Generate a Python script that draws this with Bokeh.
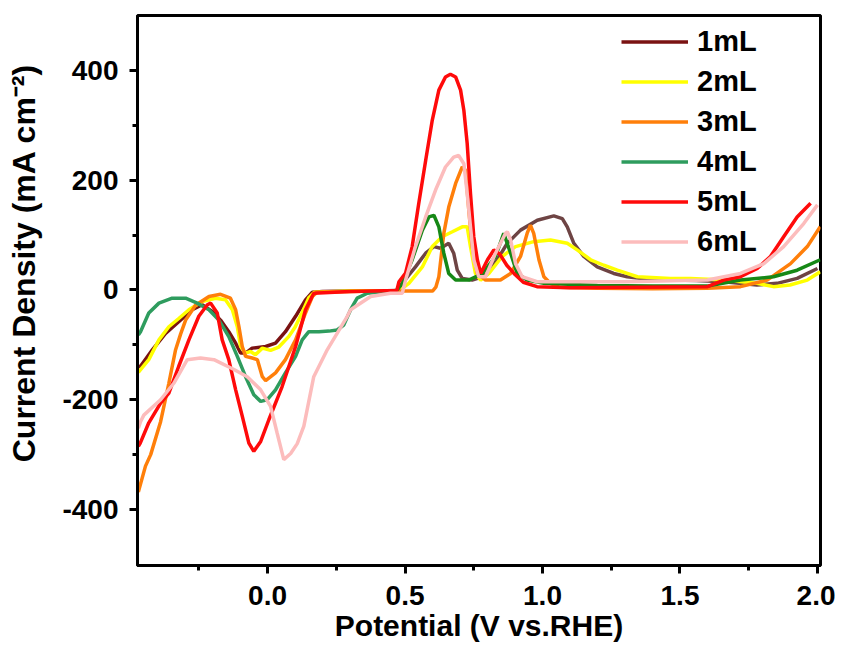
import math
from bokeh.plotting import figure
from bokeh.models import Range1d, FixedTicker, Legend, LegendItem, Label
from bokeh.embed import file_html
from bokeh.resources import INLINE

# ---------------- data ----------------
x_1ml = [-0.47, -0.462, -0.419, -0.371, -0.323, -0.274, -0.238, -0.201, -0.171, -0.141,
         -0.116, -0.098, -0.08, -0.056, -0.007, 0.029, 0.065, 0.102, 0.138, 0.163,
         0.2, 0.3, 0.4, 0.47, 0.49, 0.515, 0.538, 0.575, 0.605, 0.629,
         0.659, 0.677, 0.69, 0.708, 0.744, 0.77, 0.799, 0.835, 0.872, 0.92,
         0.981, 1.041, 1.072, 1.09, 1.114, 1.15, 1.199, 1.259, 1.308, 1.405,
         1.478, 1.56, 1.66, 1.78, 1.853, 1.926, 2.0]
y_1ml = [-140, -139, -109, -79, -58, -36, -27, -39, -55, -76,
         -97, -115, -115, -106, -103, -97, -76, -48, -18, -4,
         -3, -2, -2, -1, 12, 28, 42, 67, 79, 76,
         85, 67, 36, 21, 18, 22, 30, 55, 85, 109,
         127, 135, 130, 115, 85, 61, 42, 30, 24, 18,
         18, 17, 15, 9, 12, 21, 39]

x_2ml = [-0.47, -0.432, -0.395, -0.359, -0.323, -0.286, -0.238, -0.189, -0.153, -0.128,
         -0.11, -0.098, -0.08, -0.062, -0.044, -0.019, 0.011, 0.041, 0.077, 0.10,
         0.125, 0.15, 0.17, 0.3, 0.47, 0.49, 0.514, 0.563, 0.599, 0.635,
         0.672, 0.708, 0.726, 0.738, 0.756, 0.775, 0.805, 0.853, 0.902, 0.968,
         1.029, 1.09, 1.126, 1.175, 1.223, 1.272, 1.345, 1.465, 1.538, 1.66,
         1.78, 1.84, 1.9, 1.963, 2.01]
y_2ml = [-150, -127, -91, -67, -52, -36, -21, -15, -18, -36,
         -67, -103, -115, -112, -118, -106, -110, -104, -85, -68,
         -42, -14, -4, -2, -1, 3, 12, 42, 79, 97,
         106, 115, 115, 79, 30, 18, 30, 61, 79, 88,
         91, 85, 73, 55, 45, 36, 24, 21, 21, 18,
         12, 6, 9, 18, 33]

x_3ml = [-0.47, -0.444, -0.425, -0.389, -0.359, -0.335, -0.316, -0.298, -0.262, -0.213,
         -0.171, -0.135, -0.116, -0.104, -0.092, -0.08, -0.056, -0.037, -0.019, -0.007,
         0.029, 0.065, 0.102, 0.138, 0.163, 0.18, 0.4, 0.6, 0.612, 0.623,
         0.641, 0.659, 0.684, 0.708, 0.72, 0.732, 0.744, 0.763, 0.793, 0.847,
         0.884, 0.92, 0.944, 0.956, 0.968, 0.987, 1.005, 1.029, 1.06, 1.2,
         1.4, 1.6, 1.72, 1.817, 1.902, 1.963, 2.01]
y_3ml = [-368, -321, -300, -240, -170, -110, -80, -55, -28, -12,
         -8, -15, -36, -67, -103, -121, -124, -127, -158, -165,
         -151, -127, -91, -42, -12, -4, -2, -2, 5, 24,
         103, 151, 194, 224, 218, 145, 79, 30, 18, 18,
         30, 61, 103, 118, 103, 55, 24, 12, 5, 3,
         2, 3, 6, 18, 48, 79, 115]

x_4ml = [-0.47, -0.462, -0.432, -0.395, -0.347, -0.298, -0.256, -0.213, -0.177, -0.141,
         -0.11, -0.08, -0.05, -0.025, -0.001, 0.029, 0.065, 0.102, 0.126, 0.15,
         0.187, 0.223, 0.253, 0.277, 0.302, 0.326, 0.363, 0.423, 0.47, 0.49,
         0.526, 0.563, 0.587, 0.605, 0.623, 0.641, 0.659, 0.684, 0.732, 0.781,
         0.829, 0.859, 0.884, 0.908, 0.944, 1.005, 1.2, 1.4, 1.6, 1.72,
         1.84, 1.926, 2.01]
y_4ml = [-82, -76, -42, -24, -15, -15, -24, -36, -55, -85,
         -121, -158, -191, -203, -200, -182, -151, -121, -91, -76,
         -76, -75, -73, -64, -36, -15, -6, -3, -1, 12,
         55, 109, 133, 136, 115, 67, 30, 18, 18, 30,
         61, 103, 67, 30, 18, 12, 8, 7, 7, 18,
         24, 36, 55]

x_5ml = [-0.47, -0.463, -0.432, -0.389, -0.359, -0.323, -0.286, -0.25, -0.219, -0.207,
         -0.183, -0.165, -0.141, -0.116, -0.092, -0.068, -0.05, -0.025, 0.005, 0.053,
         0.102, 0.138, 0.168, 0.3, 0.47, 0.478, 0.502, 0.526, 0.55, 0.575,
         0.599, 0.623, 0.647, 0.665, 0.684, 0.702, 0.714, 0.726, 0.738, 0.75,
         0.763, 0.775, 0.80, 0.823, 0.845, 0.87, 0.90, 0.93, 0.98, 1.1,
         1.6, 1.659, 1.72, 1.781, 1.829, 1.877, 1.926, 1.975]
y_5ml = [-285, -279, -242, -206, -188, -139, -91, -48, -27, -24,
         -42, -91, -127, -182, -230, -279, -294, -276, -236, -176,
         -103, -36, -6, -3, -1, 15, 31, 79, 158, 236,
         309, 364, 388, 393, 388, 364, 327, 267, 176, 97,
         55, 30, 55, 73, 65, 45, 28, 14, 6, 4,
         6, 18, 24, 39, 61, 97, 133, 158]

x_6ml = [-0.47, -0.462, -0.45, -0.389, -0.341, -0.292, -0.244, -0.195, -0.122, -0.074,
         -0.025, 0.011, 0.035, 0.059, 0.084, 0.108, 0.132, 0.168, 0.217, 0.29,
         0.302, 0.375, 0.447, 0.49, 0.502, 0.538, 0.575, 0.611, 0.647, 0.677,
         0.695, 0.714, 0.726, 0.738, 0.75, 0.768, 0.793, 0.829, 0.865, 0.872,
         0.884, 0.902, 0.926, 0.98, 1.3, 1.6, 1.72, 1.805, 1.877, 1.95,
         2.0]
y_6ml = [-252, -240, -228, -200, -170, -127, -124, -127, -145, -158,
         -182, -212, -261, -309, -298, -280, -248, -158, -109, -48,
         -36, -12, -6, -6, 18, 79, 133, 182, 224, 242,
         245, 230, 176, 115, 55, 24, 24, 67, 103, 106,
         91, 48, 24, 15, 15, 18, 30, 48, 79, 121,
         155]

labels = ["1mL", "2mL", "3mL", "4mL", "5mL", "6mL"]
x_ticks = [0.0, 0.5, 1.0, 1.5, 2.0]
x_minor = [-0.25, 0.25, 0.75, 1.25, 1.75]
y_ticks = [-400, -200, 0, 200, 400]
y_minor = [-300, -100, 100, 300]
x_title = "Potential (V vs.RHE)"
y_title = "Current  Density (mA cm\u207b\u00b2)"

FONT = "Liberation Sans"

p = figure(width=835, height=652, output_backend="svg", toolbar_location=None,
           x_range=Range1d(-0.473, 2.011), y_range=Range1d(-502, 500),
           min_border_left=137, min_border_top=15, min_border_right=15,
           min_border_bottom=87, background_fill_color="white",
           border_fill_color="white")
p.xgrid.visible = False
p.ygrid.visible = False
p.outline_line_color = "black"
p.outline_line_width = 3


def split(xs, ys, cut):
    i = next(k for k, v in enumerate(xs) if v >= cut)
    return (xs[:i + 1], ys[:i + 1]), (xs[i:], ys[i:])


LW = 3.5
(l1x, l1y), (r1x, r1y) = split(x_1ml, y_1ml, 0.47)
r1 = p.line(l1x, l1y, line_color="#7a1212", line_width=LW)
p.line(r1x, r1y, line_color="#6e4444", line_width=LW)
r2 = p.line(x_2ml, y_2ml, line_color="#ffff00", line_width=LW)
r3 = p.line(x_3ml, y_3ml, line_color="#ff7f0a", line_width=LW)
(l4x, l4y), (r4x, r4y) = split(x_4ml, y_4ml, 0.47)
r4 = p.line(l4x, l4y, line_color="#2e9c5e", line_width=LW)
p.line(r4x, r4y, line_color="#168816", line_width=LW)
r5 = p.line(x_5ml, y_5ml, line_color="#ff0a0a", line_width=LW)
r6 = p.line(x_6ml, y_6ml, line_color="#fcbcbc", line_width=LW)

legend = Legend(items=[LegendItem(label=l, renderers=[r])
                       for l, r in zip(labels, [r1, r2, r3, r4, r5, r6])],
                location=(484, 307), padding=0, margin=0, spacing=7,
                glyph_width=67, glyph_height=33, label_height=33,
                label_standoff=9, border_line_alpha=0,
                background_fill_alpha=0,
                label_text_font=FONT, label_text_font_style="bold",
                label_text_font_size="29px", label_text_color="black")
p.add_layout(legend)

for ax in (p.xaxis[0], p.yaxis[0]):
    ax.axis_line_width = 3
    ax.axis_line_color = "black"
    ax.major_tick_line_width = 3
    ax.minor_tick_line_width = 3
    ax.major_tick_out = 8
    ax.major_tick_in = 0
    ax.minor_tick_out = 5
    ax.minor_tick_in = 0
    ax.major_label_text_font = FONT
    ax.major_label_text_font_style = "bold"
    ax.major_label_text_font_size = "28px"
    ax.major_label_text_color = "black"
    ax.axis_label_text_font = FONT
    ax.axis_label_text_font_style = "bold"
    ax.axis_label_text_color = "black"

p.xaxis.major_label_standoff = 12
p.yaxis.major_label_standoff = 11
p.xaxis.ticker = FixedTicker(ticks=x_ticks, minor_ticks=x_minor)
p.xaxis.major_label_overrides = {v: f"{v:.1f}" for v in x_ticks}
p.yaxis.ticker = FixedTicker(ticks=y_ticks, minor_ticks=y_minor)
p.yaxis.major_label_overrides = {v: f"{v}" for v in y_ticks}

p.xaxis.axis_label = x_title
p.xaxis.axis_label_text_font_size = "30px"
p.xaxis.axis_label_standoff = 1

# y title drawn as a rotated label in the left panel (it sits above the frame's centre)
ylab = Label(x=0, y=307, x_units="screen", y_units="screen", text=y_title,
             angle=math.pi / 2, text_align="center", text_baseline="middle",
             text_font=FONT, text_font_style="bold", text_font_size="32px",
             text_color="black")
p.add_layout(ylab, "left")

open("out.html", "w").write(file_html(p, INLINE))
